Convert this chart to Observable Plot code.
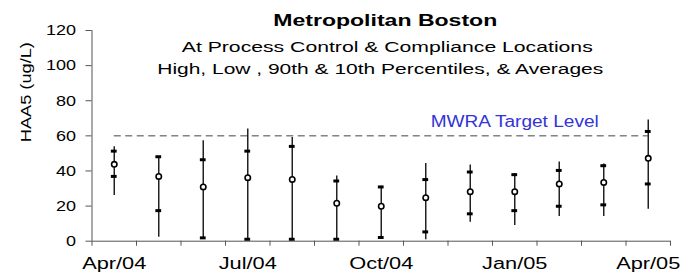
<!DOCTYPE html>
<html>
<head>
<meta charset="utf-8">
<script src="https://cdn.jsdelivr.net/npm/d3@7"></script>
<script src="https://cdn.jsdelivr.net/npm/@observablehq/plot@0.6"></script>
<style>
  html, body { margin: 0; padding: 0; background: #fff; }
</style>
</head>
<body>
<div id="chart"></div>
<script>
const months = ["Apr/04","May/04","Jun/04","Jul/04","Aug/04","Sep/04","Oct/04","Nov/04","Dec/04","Jan/05","Feb/05","Mar/05","Apr/05"];
const high = [53.8, 48.1, 57.2, 63.9, 59.1, 37.1, 31.3, 44.3, 43.4, 38.6, 45.1, 44.0, 69.0];
const p90  = [51.3, 48.1, 46.4, 51.3, 54.0, 34.3, 30.9, 35.1, 39.4, 37.9, 40.3, 43.0, 62.5];
const avg  = [43.8, 36.9, 30.9, 36.2, 35.2, 21.6, 19.9, 24.8, 28.2, 28.2, 32.6, 33.5, 47.2];
const p10  = [36.9, 17.4, 1.9, 1.1, 1.1, 1.1, 2.1, 5.3, 15.6, 17.4, 19.9, 20.7, 32.6];
const low  = [26.0, 2.3, 1.8, 1.0, 1.0, 1.0, 2.0, 0.8, 10.8, 8.9, 14.0, 14.0, 18.2];
const yTicks = [0, 20, 40, 60, 80, 100, 120];
const labelMonths = ["Apr/04", "Jul/04", "Oct/04", "Jan/05", "Apr/05"];
const targetValue = 60;
const targetLabel = "MWRA Target Level";
const title = "Metropolitan Boston";
const subtitle1 = "At Process Control & Compliance Locations";
const subtitle2 = "High, Low , 90th & 10th Percentiles, & Averages";
const yLabel = "HAA5 (ug/L)";

const data = months.map((m, i) => ({i, month: m, high: high[i], p90: p90[i], avg: avg[i], p10: p10[i], low: low[i]}));
const n = months.length;
const boundaries = d3.range(-0.5, n, 1);
const labelIdx = labelMonths.map(m => months.indexOf(m));
const halfTick = 0.065;

const font = "'Liberation Sans', Arial, Helvetica, sans-serif";

const chart = Plot.plot({
  width: 693,
  height: 273,
  marginLeft: 91.5,
  marginRight: 23,
  marginTop: 30,
  marginBottom: 32.3,
  style: {fontFamily: font, fontSize: "15px", color: "#000", background: "#fff", overflow: "visible"},
  x: {domain: [-0.5, n - 0.5], axis: null},
  y: {domain: [0, 120], axis: null},
  marks: [
    Plot.ruleX([-0.5], {stroke: "#555", strokeWidth: 1}),
    Plot.ruleY([0], {stroke: "#555", strokeWidth: 1}),
    Plot.axisY({ticks: yTicks, tickSize: 6, tickPadding: 10, fontSize: 15, stroke: "#555", fill: "#000"}),
    Plot.axisX({ticks: boundaries, tickSize: 5, tickFormat: () => "", stroke: "#555"}),
    Plot.axisX({ticks: labelIdx, tickSize: 0, tickPadding: 16.6, fontSize: 16, fill: "#000", tickFormat: i => months[i]}),
    Plot.ruleY([{y: targetValue, x1: 0, x2: n - 1}], {y: "y", x1: "x1", x2: "x2", stroke: "#444", strokeWidth: 1, strokeDasharray: "7,4.5"}),
    Plot.text([{y: targetValue, x: 9, t: targetLabel}], {x: "x", y: "y", text: "t", dy: -14, fill: "#3333d6", fontSize: 16}),
    Plot.ruleX(data, {x: "i", y1: "low", y2: "high", stroke: "#222", strokeWidth: 1.5}),
    Plot.ruleY(data, {y: "p90", x1: d => d.i - halfTick, x2: d => d.i + halfTick, stroke: "#000", strokeWidth: 3}),
    Plot.ruleY(data, {y: "p10", x1: d => d.i - halfTick, x2: d => d.i + halfTick, stroke: "#000", strokeWidth: 3}),
    Plot.dot(data, {x: "i", y: "avg", r: 2.7, fill: "#fff", stroke: "#000", strokeWidth: 1.6}),
    Plot.text([title], {frameAnchor: "top", dy: -16.7, dx: 4, fontWeight: "bold", fontSize: 16.5, fill: "#000"}),
    Plot.text([subtitle1], {frameAnchor: "top", dy: 10, dx: 6, fontSize: 15.5, fill: "#000"}),
    Plot.text([subtitle2], {frameAnchor: "top", dy: 32.2, dx: -1, fontSize: 15.5, fill: "#000"}),
    Plot.text([yLabel], {frameAnchor: "left", rotate: -90, dx: -65.5, dy: 6.3, fontSize: 15.5, fill: "#000"})
  ]
});

document.getElementById("chart").append(chart);

// reproduce the reference's horizontally-widened lettering
const targets = {[title]: 224, [subtitle1]: 411, [subtitle2]: 446, [targetLabel]: 168, [yLabel]: 100};
chart.querySelectorAll("text").forEach(t => {
  const s = t.textContent;
  if (!s) return;
  const L = t.getComputedTextLength();
  let target;
  if (targets[s] !== undefined) target = targets[s];
  else if (/^\d+$/.test(s)) target = L * 1.2;
  else target = L * 1.36;
  t.setAttribute("textLength", target);
  t.setAttribute("lengthAdjust", "spacingAndGlyphs");
});
</script>
</body>
</html>
